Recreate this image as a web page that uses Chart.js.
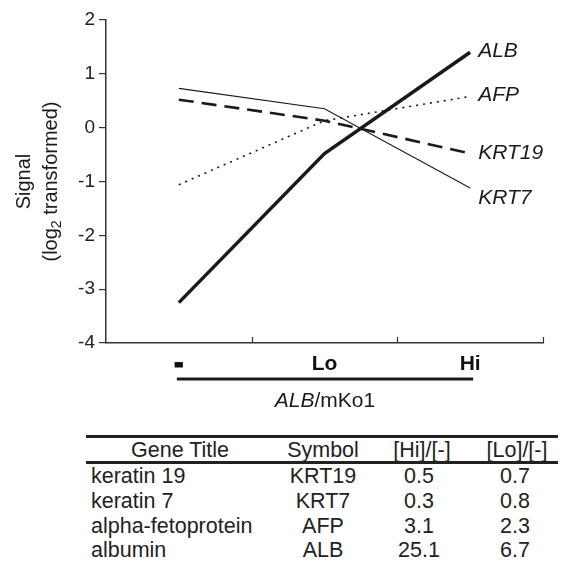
<!DOCTYPE html>
<html>
<head>
<meta charset="utf-8">
<script src="https://cdn.jsdelivr.net/npm/chart.js@4.4.1/dist/chart.umd.min.js"></script>
<style>
  html, body { margin: 0; padding: 0; background: #fff; }
  #wrap { position: relative; width: 565px; height: 562px; overflow: hidden; }
  #chart { position: absolute; left: 0; top: 0; }
  .rule { position: absolute; background: #222; height: 3px; }
  .cell { position: absolute; font-family: "Liberation Sans", Arial, sans-serif; font-size: 21.5px; color: #222; line-height: 24px; white-space: nowrap; }
</style>
</head>
<body>
<div id="wrap">
  <canvas id="chart" width="565" height="420"></canvas>
</div>
<script>
// chart data
const categories = ['-', 'Lo', 'Hi'];
const seriesNames = ['ALB', 'AFP', 'KRT19', 'KRT7'];
const albValues = [-3.25, -0.48, 1.40];
const afpValues = [-1.06, 0.13, 0.58];
const krt19Values = [0.52, 0.13, -0.48];
const krt7Values = [0.73, 0.35, -1.12];
const yMin = -4;
const yMax = 2;

// table data
const tableHeader = ['Gene Title', 'Symbol', '[Hi]/[-]', '[Lo]/[-]'];
const geneTitles = ['keratin 19', 'keratin 7', 'alpha-fetoprotein', 'albumin'];
const geneSymbols = ['KRT19', 'KRT7', 'AFP', 'ALB'];
const hiRatios = ['0.5', '0.3', '3.1', '25.1'];
const loRatios = ['0.7', '0.8', '2.3', '6.7'];

const ink = '#1a1a1a';
const fontFamily = '"Liberation Sans", Arial, sans-serif';

// label nudges next to the line ends
const labelOffsetY = { ALB: -1, AFP: -1, KRT19: 0, KRT7: 10 };

const overlay = {
  id: 'overlay',
  afterDraw(chart) {
    const { ctx, chartArea } = chart;
    const x = chart.scales.x;
    ctx.save();
    ctx.strokeStyle = '#333';
    ctx.lineWidth = 1.2;

    // inward ticks between categories + right end
    for (let i = 1; i <= categories.length; i++) {
      const px = i < categories.length
        ? (x.getPixelForValue(i - 1) + x.getPixelForValue(i)) / 2
        : chartArea.right;
      ctx.beginPath();
      ctx.moveTo(Math.round(px) + 0.5, chartArea.bottom);
      ctx.lineTo(Math.round(px) + 0.5, chartArea.bottom - 6);
      ctx.stroke();
    }

    // series labels at the right
    ctx.fillStyle = ink;
    ctx.font = 'italic 21px ' + fontFamily;
    ctx.textBaseline = 'middle';
    ctx.textAlign = 'left';
    chart.data.datasets.forEach((ds, i) => {
      const meta = chart.getDatasetMeta(i);
      const pt = meta.data[meta.data.length - 1];
      ctx.fillText(ds.label, pt.x + 8, pt.y + labelOffsetY[ds.label]);
    });

    // heavy bar under the x labels
    const x0 = x.getPixelForValue(0) - 2;
    const x1 = x.getPixelForValue(categories.length - 1) + 3;
    ctx.strokeStyle = ink;
    ctx.lineWidth = 3;
    ctx.beginPath();
    ctx.moveTo(x0, chartArea.bottom + 36);
    ctx.lineTo(x1, chartArea.bottom + 36);
    ctx.stroke();

    // x title: ALB/mKo1 (ALB italic)
    const ty = chartArea.bottom + 58;
    ctx.font = 'italic 21px ' + fontFamily;
    const w1 = ctx.measureText('ALB').width;
    ctx.font = '21px ' + fontFamily;
    const w2 = ctx.measureText('/mKo1').width;
    const cx = (x0 + x1) / 2;
    let tx = cx - (w1 + w2) / 2;
    ctx.font = 'italic 21px ' + fontFamily;
    ctx.fillText('ALB', tx, ty);
    ctx.font = '21px ' + fontFamily;
    ctx.fillText('/mKo1', tx + w1, ty);

    // y title, rotated, with subscript 2
    const cy = (chartArea.top + chartArea.bottom) / 2;
    ctx.translate(0, cy);
    ctx.rotate(-Math.PI / 2);
    ctx.textAlign = 'center';
    ctx.font = '20px ' + fontFamily;
    ctx.fillText('Signal', 0, 24);
    const partA = '(log';
    const partB = ' transformed)';
    ctx.font = '20px ' + fontFamily;
    const wa = ctx.measureText(partA).width;
    const wb = ctx.measureText(partB).width;
    ctx.font = '14px ' + fontFamily;
    const ws = ctx.measureText('2').width;
    const total = wa + ws + wb;
    ctx.textAlign = 'left';
    let sx = -total / 2;
    ctx.font = '20px ' + fontFamily;
    ctx.fillText(partA, sx, 51);
    ctx.font = '14px ' + fontFamily;
    ctx.fillText('2', sx + wa, 57);
    ctx.font = '20px ' + fontFamily;
    ctx.fillText(partB, sx + wa + ws, 51);
    ctx.restore();
  }
};

const ctx = document.getElementById('chart').getContext('2d');
new Chart(ctx, {
  type: 'line',
  data: {
    labels: categories,
    datasets: [
      { label: seriesNames[0], data: albValues, borderColor: ink, borderWidth: 3.5, pointRadius: 0, tension: 0, fill: false },
      { label: seriesNames[1], data: afpValues, borderColor: ink, borderWidth: 1.6, borderDash: [2, 5], pointRadius: 0, tension: 0, fill: false },
      { label: seriesNames[2], data: krt19Values, borderColor: ink, borderWidth: 2.6, borderDash: [15, 8], pointRadius: 0, tension: 0, fill: false },
      { label: seriesNames[3], data: krt7Values, borderColor: ink, borderWidth: 1.1, pointRadius: 0, tension: 0, fill: false }
    ]
  },
  options: {
    responsive: false,
    animation: false,
    layout: { padding: { top: 20, right: 22, left: 0, bottom: 0 } },
    plugins: { legend: { display: false }, tooltip: { enabled: false } },
    scales: {
      x: {
        type: 'category',
        offset: true,
        grid: { display: false },
        border: { display: true, color: '#333', width: 1.5 },
        ticks: {
          color: '#111',
          padding: 1,
          font: { family: fontFamily, size: 21, weight: 'bold' },
          // the "-" category is drawn as a heavier dash
          textStrokeColor: '#111',
          textStrokeWidth: c => (c.index === 0 ? 3 : 0)
        },
        afterFit: s => { s.height = 77; }
      },
      y: {
        min: yMin,
        max: yMax,
        ticks: { stepSize: 1, color: '#222', padding: 4, font: { family: fontFamily, size: 19 } },
        grid: { drawOnChartArea: false, tickLength: 7, color: '#333', lineWidth: 1.2 },
        border: { display: true, color: '#333', width: 1.5 },
        afterFit: s => { s.width = 106; }
      }
    }
  },
  plugins: [overlay]
});

// table below the chart
const wrap = document.getElementById('wrap');
function rule(top, left, width) {
  const d = document.createElement('div');
  d.className = 'rule';
  d.style.top = top + 'px';
  d.style.left = left + 'px';
  d.style.width = width + 'px';
  wrap.appendChild(d);
}
function cell(text, centerY, x, align) {
  const d = document.createElement('div');
  d.className = 'cell';
  d.textContent = text;
  d.style.top = (centerY - 12) + 'px';
  d.style.left = x + 'px';
  if (align === 'center') d.style.transform = 'translateX(-50%)';
  wrap.appendChild(d);
}
const colCenters = [180, 323, 422, 517];
const headerY = 450;
const rowYs = [476, 501, 526, 550];
rule(435, 86, 472);
rule(461, 86, 472);
tableHeader.forEach((h, i) => cell(h, headerY, colCenters[i], 'center'));
geneTitles.forEach((g, r) => {
  cell(g, rowYs[r], 91, 'left');
  cell(geneSymbols[r], rowYs[r], colCenters[1], 'center');
  cell(hiRatios[r], rowYs[r], colCenters[2] - 3, 'center');
  cell(loRatios[r], rowYs[r], colCenters[3] - 2, 'center');
});
</script>
</body>
</html>
